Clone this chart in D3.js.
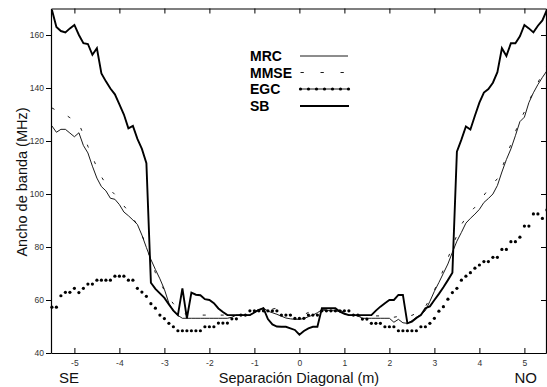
<!DOCTYPE html>
<html><head><meta charset="utf-8">
<script src="https://cdn.jsdelivr.net/npm/d3@7"></script>
<style>html,body{margin:0;padding:0;background:#fff;}svg{display:block;font-family:Arial,"Liberation Sans",sans-serif;}</style>
</head><body><svg id="c" width="547" height="387"></svg>
<script>
// Data (x grid: -5.5 .. 5.5 m, step 0.1)
const xStart = -5.5, xStep = 0.1, nPts = 111;
const xTicks = [-5,-4,-3,-2,-1,0,1,2,3,4,5];
const yTicks = [40,60,80,100,120,140,160];
const seriesNames = ["MRC","MMSE","EGC","SB"];
const MRC = [125.7,123.3,124.4,124.4,123.0,121.6,123.1,118.3,115.5,110.5,
 106.0,102.8,101.2,98.4,98.0,96.0,93.2,91.8,90.2,88.5,
 84.5,79.8,75.3,71.5,68.0,64.0,58.8,55.8,54.2,53.1,
 53.1,53.1,53.1,53.1,53.1,53.1,53.1,53.1,53.1,53.1,
 53.5,54.3,54.3,54.3,54.3,55.3,56.2,57.0,55.8,55.2,
 54.6,53.9,53.2,52.9,52.7,52.7,53.0,53.7,54.3,55.2,
 56.3,56.0,56.0,55.9,55.6,54.8,54.3,54.3,54.0,53.1,
 53.1,53.1,53.1,53.1,53.1,53.1,51.6,52.7,51.4,51.2,
 52.2,53.5,54.5,56.0,59.5,63.3,66.6,70.1,73.6,78.0,
 82.2,85.5,89.0,90.8,92.4,94.2,96.8,98.3,100.0,103.2,
 108.3,113.0,117.0,122.0,127.3,129.0,134.5,138.2,141.3,144.0,
 146.5];
const MMSE = [132.5,131.5,130.6,129.9,128.8,127.8,126.5,122.5,118.0,114.0,
 110.0,106.5,103.8,101.5,99.8,97.5,95.5,93.5,91.2,88.0,
 84.5,80.5,75.0,70.3,66.8,63.6,60.8,58.6,56.5,55.0,
 54.6,54.4,54.3,54.3,54.3,54.3,54.3,54.3,54.3,54.3,
 54.3,54.3,54.3,54.3,54.3,55.5,56.5,57.2,56.8,56.6,
 56.9,56.0,55.0,54.3,53.8,53.8,54.5,55.3,55.6,56.0,
 56.5,56.2,56.2,56.2,56.2,55.3,54.5,54.3,54.0,54.0,
 54.0,54.0,54.0,54.0,54.0,54.0,53.5,53.8,54.5,54.0,
 54.2,55.0,56.0,57.5,60.5,63.8,67.2,71.5,75.8,80.0,
 84.5,88.5,91.0,93.2,95.0,97.0,99.5,101.8,103.8,105.8,
 109.8,114.2,118.8,123.5,127.8,131.0,134.8,138.8,142.0,145.5,
 148.5];
const EGC = [57.3,57.3,61.6,62.9,62.9,64.4,62.8,64.4,66.0,66.0,
 67.5,67.5,67.5,67.5,69.0,69.0,69.0,67.5,67.5,64.4,
 63.0,61.4,58.6,56.9,54.3,53.0,51.2,49.9,48.4,48.4,
 48.4,48.4,48.4,48.4,49.9,49.9,49.9,51.3,51.3,51.3,
 52.9,52.9,54.3,54.3,55.9,55.9,55.9,55.9,55.9,55.9,
 55.9,54.3,54.3,54.3,53.1,53.1,53.1,54.3,54.3,54.3,
 55.9,55.9,55.9,55.9,55.9,55.9,55.9,54.3,54.3,52.8,
 52.8,51.2,51.2,51.2,49.9,49.9,49.9,48.4,48.4,48.4,
 48.4,48.4,49.9,49.9,51.2,53.1,55.8,57.5,60.3,62.8,
 64.4,67.5,69.0,70.3,72.0,73.2,74.5,74.5,76.1,76.1,
 79.1,79.1,82.0,82.0,83.7,87.9,87.9,92.5,92.5,90.8,
 94.0];
const SB = [169.5,163.0,161.5,161.0,162.5,163.8,160.0,156.9,156.6,152.5,
 155.0,145.5,142.5,139.8,137.6,133.8,130.0,124.8,125.7,120.8,
 117.0,111.6,66.5,64.2,62.5,60.8,58.3,56.0,54.3,64.4,
 53.1,62.8,62.0,61.8,60.3,60.0,58.8,56.8,55.5,54.3,
 54.3,54.3,54.3,54.3,54.3,55.3,56.3,56.9,52.8,50.8,
 50.0,49.9,49.9,49.3,48.7,46.9,48.3,49.3,49.9,49.9,
 56.9,56.9,56.9,56.9,55.6,54.8,54.3,54.3,54.3,54.3,
 54.3,54.3,56.0,57.5,58.8,60.0,60.0,61.9,61.9,51.2,
 51.8,53.2,54.3,56.9,57.6,60.0,62.3,64.8,67.5,70.3,
 116.0,120.5,125.5,124.3,129.5,134.5,138.3,139.6,142.0,146.0,
 155.0,152.1,156.9,156.9,159.5,163.8,162.5,161.0,163.5,165.5,
 169.5];
const xs = d3.range(nPts).map(i => +(xStart + i*xStep).toFixed(2));

const svg = d3.select("#c");
const L = 51, R = 546, T = 8.5, B = 353;
const x = d3.scaleLinear().domain([-5.52, 5.48]).range([L, R]);
const y = d3.scaleLinear().domain([40, 170]).range([B, T]);

svg.append("defs").append("clipPath").attr("id","clip")
  .append("rect").attr("x",L).attr("y",T).attr("width",R-L).attr("height",B-T);

const line = d3.line().x((d,i)=>x(xs[i])).y(d=>y(d));
const g = svg.append("g").attr("clip-path","url(#clip)");
g.append("path").datum(MRC).attr("d",line).attr("fill","none").attr("stroke","#000").attr("stroke-width",0.9);
g.append("path").datum(MMSE).attr("d",line).attr("fill","none").attr("stroke","#000").attr("stroke-width",0.9).attr("stroke-dasharray","3,15");
g.append("path").datum(SB).attr("d",line).attr("fill","none").attr("stroke","#000").attr("stroke-width",1.9);
svg.append("g").selectAll("circle").data(EGC).join("circle")
  .attr("cx",(d,i)=>x(xs[i])).attr("cy",d=>y(d)).attr("r",1.6).attr("fill","#000");

// axes
const tickCol = "#333";
const axB = svg.append("g").attr("transform",`translate(0,${B})`)
  .call(d3.axisBottom(x).tickValues(xTicks).tickSizeInner(-5).tickSizeOuter(0).tickPadding(7));
const axT = svg.append("g").attr("transform",`translate(0,${T})`)
  .call(d3.axisTop(x).tickValues(xTicks).tickSizeInner(-5).tickSizeOuter(0).tickFormat(""));
const axL = svg.append("g").attr("transform",`translate(${L},0)`)
  .call(d3.axisLeft(y).tickValues(yTicks).tickSizeInner(5).tickSizeOuter(0).tickPadding(2));
const axR = svg.append("g").attr("transform",`translate(${R},0)`)
  .call(d3.axisRight(y).tickValues(yTicks).tickSizeInner(-5).tickSizeOuter(0).tickFormat(""));
[axB,axT,axL,axR].forEach(a=>{
  a.select(".domain").attr("stroke","#000").attr("stroke-width",1.2);
  a.selectAll(".tick line").attr("stroke","#000").attr("stroke-width",1);
  a.selectAll("text").attr("font-size",8.5).attr("fill",tickCol).attr("font-family","Arial, 'Liberation Sans', sans-serif");
});
axB.selectAll("text").text(d => d < 0 ? "-" + Math.abs(d) : d);

// titles
svg.append("text").attr("x",299).attr("y",382.5).attr("text-anchor","middle")
  .attr("font-size",14.5).attr("fill","#111").text("Separación Diagonal (m)");
svg.append("text").attr("x",59).attr("y",383).attr("font-size",15).attr("fill","#111").text("SE");
svg.append("text").attr("x",537).attr("y",383).attr("text-anchor","end").attr("font-size",15).attr("fill","#111").text("NO");
svg.append("text").attr("transform","translate(26.5,182) rotate(-90)").attr("text-anchor","middle")
  .attr("font-size",14.5).attr("fill","#111").text("Ancho de banda (MHz)");

// legend
const leg = svg.append("g");
const ly = [56, 72.5, 89, 106];
seriesNames.forEach((nm,i)=>{
  leg.append("text").attr("x",250).attr("y",ly[i]+5).attr("font-size",14).attr("font-weight","bold")
    .attr("fill","#000").text(nm);
});
leg.append("line").attr("x1",300).attr("x2",348).attr("y1",ly[0]).attr("y2",ly[0]).attr("stroke","#000").attr("stroke-width",0.9);
leg.append("line").attr("x1",300.5).attr("x2",348).attr("y1",ly[1]).attr("y2",ly[1]).attr("stroke","#000").attr("stroke-width",0.9).attr("stroke-dasharray","3.3,16.7");
leg.append("line").attr("x1",300).attr("x2",349).attr("y1",ly[2]).attr("y2",ly[2]).attr("stroke","#000").attr("stroke-width",0.9);
leg.selectAll("circle.egc").data(d3.range(7)).join("circle").attr("class","egc")
  .attr("cx",d=>300.5 + d*8).attr("cy",ly[2]).attr("r",1.6).attr("fill","#000");
leg.append("line").attr("x1",300).attr("x2",349).attr("y1",ly[3]).attr("y2",ly[3]).attr("stroke","#000").attr("stroke-width",2);
</script></body></html>
